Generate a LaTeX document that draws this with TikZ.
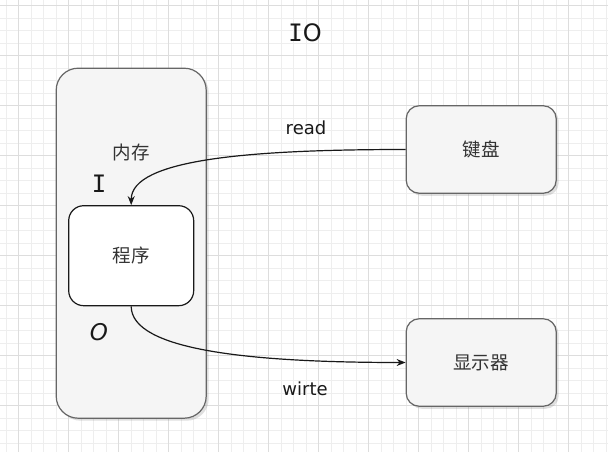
\documentclass[tikz,border=0pt]{standalone}
\usepackage{fontspec}
\usepackage{tikz}
\usetikzlibrary{arrows.meta,shadows}
\newfontfamily\cjk{Noto Sans CJK SC}
\newfontfamily\hand{DejaVu Sans}
\newfontfamily\mono{DejaVu Sans Mono}
\definecolor{GridMinor}{HTML}{EEEEEE}
\definecolor{GridMajor}{HTML}{DDDDDD}
\definecolor{BoxBack}{HTML}{F5F5F5}
\definecolor{BoxBorder}{HTML}{666666}
\definecolor{TextMain}{HTML}{333333}
\newcommand{\zh}[1]{{\cjk\fontsize{18.5}{22}\selectfont #1}}

\begin{document}
\begin{tikzpicture}[x=1pt,y=-1pt,>={Stealth[length=9pt,width=7pt]},
 graybox/.style={draw=BoxBorder,fill=BoxBack,line width=1.2pt,text=TextMain,
  inner sep=0pt,drop shadow={shadow xshift=2.5pt,shadow yshift=-2.5pt,opacity=0.25}},
 label/.style={text=black!90,inner sep=0pt},
 link/.style={->,line width=1.2pt,color=black!90}]
\useasboundingbox (0,0) rectangle (608,452);
\fill[white] (0,0) rectangle (608,452);
\foreach \i in {0,...,48} {
 \draw[GridMinor,line width=0.8pt] ({6.2+12.5*\i},0) -- ++(0,452);
 \draw[GridMinor,line width=0.8pt] (0,{5.7+12.5*\i}) -- ++(608,0);
}
\foreach \i in {0,...,12} {
 \draw[GridMajor,line width=0.8pt] ({18.7+50*\i},0) -- ++(0,452);
 \draw[GridMajor,line width=0.8pt] (0,{5.7+50*\i}) -- ++(608,0);
}
\node[graybox,rounded corners=22pt,minimum width=150pt,minimum height=350pt]
 (mem) at (131.2,243.2) {};
\node[graybox,rounded corners=13pt,minimum width=150pt,minimum height=87.5pt]
 (kbd) at (481.2,149.5) {\zh{键盘}};
\node[graybox,rounded corners=13pt,minimum width=150pt,minimum height=87.5pt]
 (disp) at (481.2,362.5) {\zh{显示器}};
\node[draw=black!90,fill=white,line width=1.2pt,rounded corners=15pt,inner sep=0pt,
 minimum width=125pt,minimum height=100pt,text=TextMain] (prog) at (131.2,255.7) {\zh{程序}};
\node[text=TextMain,inner sep=0pt] (memlabel) at (131,152) {\zh{内存}};
\node[label,font=\fontsize{24}{28}\selectfont] (title) at (305,33) {{\mono I}{\hand O}};
\node[label,font=\mono\fontsize{24}{28}\selectfont] (in) at (99,184) {I};
\node[label,font=\hand\itshape\fontsize{23}{28}\selectfont] (out) at (99,332) {O};
\node[label,font=\hand\fontsize{18}{22}\selectfont] (readlabel) at (306,128) {read};
\node[label,font=\hand\fontsize{18}{22}\selectfont] (writelabel) at (305,389) {wirte};
\draw[link] (kbd.west) .. controls +(-155,0) and +(0,-46) .. (prog.north);
\draw[link] (prog.south) .. controls +(0,44) and +(-155,0) .. (disp.west);
\end{tikzpicture}
\end{document}
